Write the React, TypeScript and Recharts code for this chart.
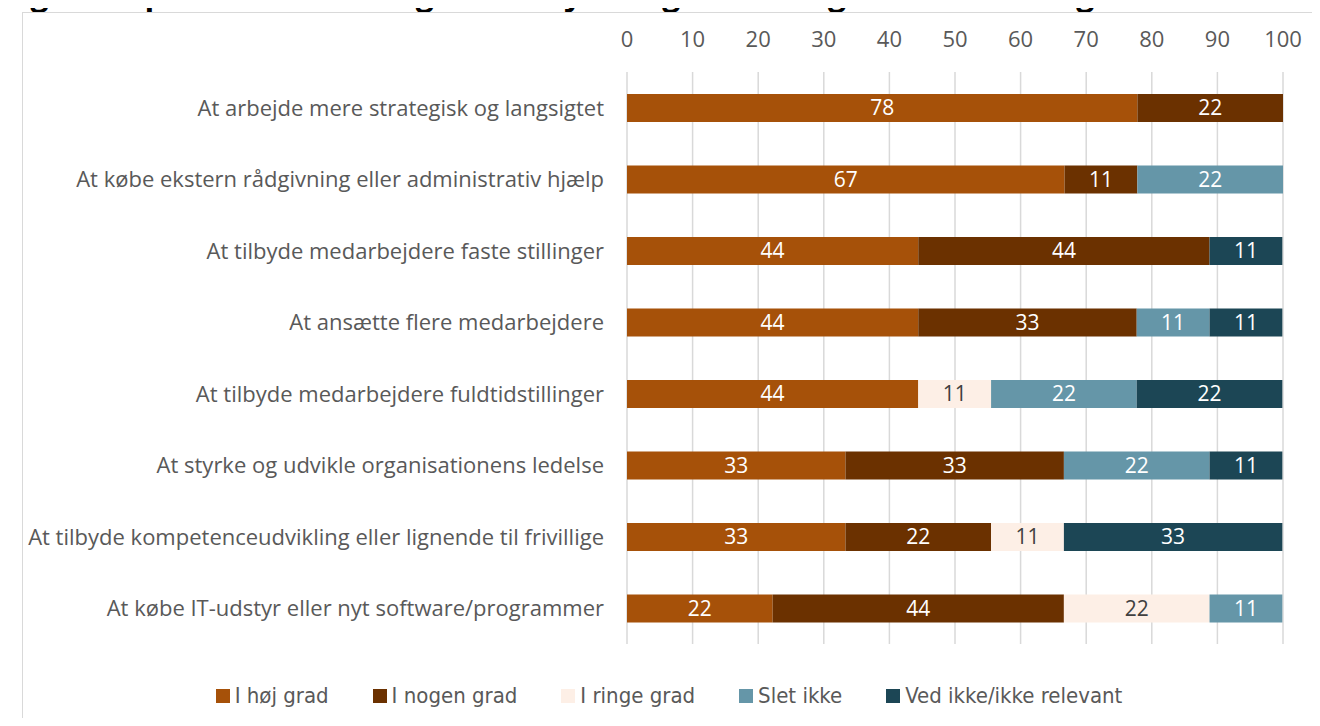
import React from "react";
import { BarChart, Bar, XAxis, YAxis, CartesianGrid, LabelList } from "recharts";

const categories = [
  "At arbejde mere strategisk og langsigtet",
  "At købe ekstern rådgivning eller administrativ hjælp",
  "At tilbyde medarbejdere faste stillinger",
  "At ansætte flere medarbejdere",
  "At tilbyde medarbejdere fuldtidstillinger",
  "At styrke og udvikle organisationens ledelse",
  "At tilbyde kompetenceudvikling eller lignende til frivillige",
  "At købe IT-udstyr eller nyt software/programmer",
];

const hojGrad = [77.8, 66.7, 44.4, 44.4, 44.4, 33.3, 33.3, 22.2];
const nogenGrad = [22.2, 11.1, 44.4, 33.3, 0, 33.3, 22.2, 44.4];
const ringeGrad = [0, 0, 0, 0, 11.1, 0, 11.1, 22.2];
const sletIkke = [0, 22.2, 0, 11.1, 22.2, 22.2, 0, 11.1];
const vedIkke = [0, 0, 11.1, 11.1, 22.2, 11.1, 33.3, 0];

const xTicks = [0, 10, 20, 30, 40, 50, 60, 70, 80, 90, 100];

const series = [
  { key: "hoj", name: "I høj grad", values: hojGrad, color: "#A65109", label: "#FFFFFF" },
  { key: "nogen", name: "I nogen grad", values: nogenGrad, color: "#6B3100", label: "#FFFFFF" },
  { key: "ringe", name: "I ringe grad", values: ringeGrad, color: "#FDEFE6", label: "#404040" },
  { key: "slet", name: "Slet ikke", values: sletIkke, color: "#6596A8", label: "#FFFFFF" },
  { key: "ved", name: "Ved ikke/ikke relevant", values: vedIkke, color: "#1C4655", label: "#FFFFFF" },
];

const data = categories.map((name, i) => {
  const row: Record<string, string | number> = { name };
  series.forEach((s) => {
    row[s.key] = s.values[i];
  });
  return row;
});

const font = "'Open Sans', 'Noto Sans', sans-serif";
const narrow = "'DejaVu Sans Condensed', 'Liberation Sans Narrow', sans-serif";

const fmt = (v: any) => (Number(v) > 0 ? Math.round(Number(v)).toString() : "");

export default function App() {
  return (
    <div style={{ position: "relative", width: 1320, height: 726, margin: -8, overflow: "hidden", background: "#fff" }}>
      <div
        style={{
          position: "absolute",
          left: 0,
          top: -23,
          fontFamily: font,
          fontWeight: 700,
          fontSize: 32,
          lineHeight: "32px",
          letterSpacing: 1.6,
          color: "#000",
          whiteSpace: "nowrap",
        }}
      >
        Fig 1. Kapacitetsbevillingens betydning for tiltag blandt AP-organisationer. Pct.
      </div>
      <div
        style={{
          position: "absolute",
          left: 22,
          top: 12,
          width: 1310,
          height: 730,
          border: "1px solid #D9D9D9",
          boxSizing: "border-box",
        }}
      />
      <div style={{ position: "absolute", left: 0, top: 0 }}>
        <BarChart
          width={1320}
          height={726}
          data={data}
          layout="vertical"
          margin={{ top: 42, right: 37, bottom: 82, left: 0 }}
          barSize={28}
        >
          <CartesianGrid horizontal={false} stroke="#D9D9D9" strokeWidth={1.5} />
          <XAxis
            type="number"
            orientation="top"
            domain={[0, 100]}
            ticks={xTicks}
            height={30}
            axisLine={false}
            tickLine={false}
            tickSize={0}
            tickMargin={25}
            tick={{ fill: "#595959", fontSize: 22, fontFamily: font }}
            interval={0}
          />
          <YAxis
            type="category"
            dataKey="name"
            width={627}
            axisLine={false}
            tickLine={false}
            tickSize={0}
            tickMargin={23}
            tick={{ fill: "#595959", fontSize: 22, fontFamily: font }}
            interval={0}
          />
          {series.map((s) => (
            <Bar key={s.key} dataKey={s.key} name={s.name} stackId="a" fill={s.color} isAnimationActive={false}>
              <LabelList
                dataKey={s.key}
                position="center"
                formatter={fmt}
                fill={s.label}
                style={{ fontSize: 21, fontFamily: font }}
              />
            </Bar>
          ))}
        </BarChart>
      </div>
      <div
        style={{
          position: "absolute",
          top: 683,
          left: 0,
          width: 1338,
          display: "flex",
          justifyContent: "center",
          gap: 44,
          fontFamily: narrow,
          fontSize: 22,
          color: "#595959",
        }}
      >
        {series.map((s) => (
          <div key={s.key} style={{ display: "flex", alignItems: "center" }}>
            <span style={{ display: "inline-block", width: 14, height: 14, background: s.color, marginRight: 5 }} />
            <span>{s.name}</span>
          </div>
        ))}
      </div>
    </div>
  );
}
